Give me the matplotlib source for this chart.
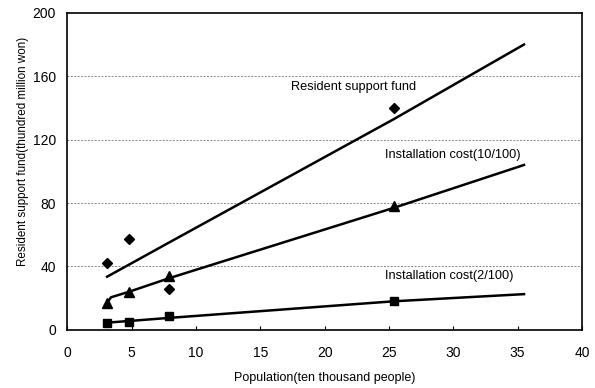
import matplotlib.pyplot as plt

plt.rcParams['font.family'] = ['Liberation Sans', 'DejaVu Sans']

# observed points (population, ten thousand people)
pop = [3.1, 4.8, 7.9, 25.4]
resident_fund = [42, 57, 26, 140]
install_10 = [17, 24, 34, 78]
install_2 = [4, 5, 8.5, 18]

# trend lines
fit_res_x = [3.1, 7.9, 25.4, 35.5]
fit_res_y = [33.5, 55, 133, 180]
fit_10_x = [3.1, 3.4, 4.8, 7.9, 25.4, 35.5]
fit_10_y = [17, 20.5, 24, 32.5, 77, 104]
fit_2_x = [3.1, 7.9, 25.4, 35.5]
fit_2_y = [4.5, 7.5, 18, 22.5]

x_ticks = [0, 5, 10, 15, 20, 25, 30, 35, 40]
y_ticks = [0, 40, 80, 120, 160, 200]

fig, ax = plt.subplots(figsize=(5.95, 3.88), dpi=100)
fig.subplots_adjust(left=0.113, right=0.978, top=0.967, bottom=0.15)

for y in y_ticks[1:-1]:
    ax.axhline(y, color='#888888', lw=0.7, ls=(0, (2, 1.5)), zorder=0)

ax.plot(fit_res_x, fit_res_y, color='black', lw=1.8)
ax.plot(fit_10_x, fit_10_y, color='black', lw=1.8)
ax.plot(fit_2_x, fit_2_y, color='black', lw=1.8)

ax.plot(pop, resident_fund, ls='none', marker='D', ms=5, color='black')
ax.plot(pop, install_10, ls='none', marker='^', ms=6.5, color='black')
ax.plot(pop, install_2, ls='none', marker='s', ms=5.5, color='black')

ax.text(17.4, 153, 'Resident support fund', fontsize=9.2, va='center')
ax.text(24.7, 110, 'Installation cost(10/100)', fontsize=9.2, va='center')
ax.text(24.7, 34, 'Installation cost(2/100)', fontsize=9.2, va='center')

ax.set_xlim(0, 40)
ax.set_ylim(0, 200)
ax.set_xticks(x_ticks)
ax.set_yticks(y_ticks)
ax.tick_params(axis='x', direction='in', length=3, pad=12, labelsize=10)
ax.tick_params(axis='y', length=0, pad=8, labelsize=10)
for s in ax.spines.values():
    s.set_linewidth(1.2)

ax.set_xlabel('Population(ten thousand people)', fontsize=9, labelpad=8)
ax.set_ylabel('Resident support fund(thundred million won)', fontsize=8.4)
ax.yaxis.set_label_coords(-0.075, 0.563)

fig.savefig('out.png', dpi=100)
